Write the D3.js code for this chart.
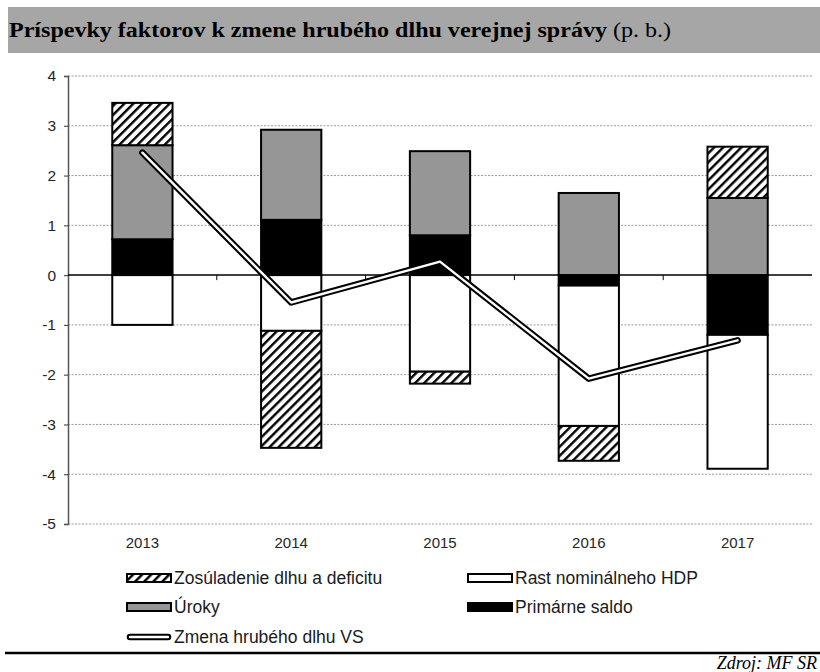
<!DOCTYPE html>
<html>
<head>
<meta charset="utf-8">
<script src="https://cdn.jsdelivr.net/npm/d3@7"></script>
<style>
  html, body { margin: 0; padding: 0; background: #fff; overflow: hidden; }
  svg { display: block; }
</style>
</head>
<body>
<script>
// Roky a príspevky jednotlivých faktorov (p. b.)
const years = ["2013", "2014", "2015", "2016", "2017"];
const primarneSaldo = [0.72, 1.11, 0.80, -0.21, -1.20];
const uroky = [1.89, 1.81, 1.69, 1.65, 1.55];
const rastHdp = [-1.00, -1.12, -1.94, -2.82, -2.69];
const zosuladenie = [0.85, -2.35, -0.24, -0.70, 1.03];
const zmenaDlhu = [2.46, -0.55, 0.27, -2.08, -1.31];
const yTicks = [4, 3, 2, 1, 0, -1, -2, -3, -4, -5];

const seriesKeys = ["saldo", "uroky", "hdp", "zos"];
const seriesNames = {
  zos: "Zosúladenie dlhu a deficitu",
  hdp: "Rast nominálneho HDP",
  uroky: "Úroky",
  saldo: "Primárne saldo"
};

const W = 820, H = 672;
const svg = d3.select("body").append("svg").attr("width", W).attr("height", H);

const defs = svg.append("defs");
const hatch = defs.append("pattern")
  .attr("id", "hatch")
  .attr("patternUnits", "userSpaceOnUse")
  .attr("width", 6.4).attr("height", 6.4)
  .attr("patternTransform", "rotate(45)");
hatch.append("rect").attr("width", 6.4).attr("height", 6.4).attr("fill", "#fff");
hatch.append("line").attr("x1", 1.2).attr("x2", 1.2).attr("y1", 0).attr("y2", 6.4)
  .attr("stroke", "#000").attr("stroke-width", 2.4);

const fills = { saldo: "#000", uroky: "#969696", hdp: "#fff", zos: "url(#hatch)" };

// Title bar
svg.append("rect").attr("x", 8).attr("y", 7).attr("width", W - 8).attr("height", 46).attr("fill", "#a6a6a6");
const title = svg.append("text")
  .attr("transform", "translate(9,37) scale(1.145,1)")
  .attr("font-family", "'Liberation Serif', 'Times New Roman', serif")
  .attr("font-size", 21).attr("fill", "#000");
title.append("tspan").attr("font-weight", "bold").text("Príspevky faktorov k zmene hrubého dlhu verejnej správy");
title.append("tspan").text(" (p. b.)");

// Scales
const x = d3.scaleBand().domain(years).range([68, 812]).paddingInner(0).paddingOuter(0);
const y = d3.scaleLinear().domain([-5, 4]).range([524, 76]);
const barW = x.bandwidth() * 0.405;

// Gridlines
svg.append("g").selectAll("line").data(yTicks.filter(d => d !== 0)).join("line")
  .attr("x1", 68).attr("x2", 812)
  .attr("y1", d => y(d)).attr("y2", d => y(d))
  .attr("stroke", "#9a9a9a").attr("stroke-width", 1).attr("stroke-dasharray", "2,1.5");

// Y axis
const yAxis = svg.append("g").attr("transform", "translate(68,0)")
  .call(d3.axisLeft(y).tickValues(yTicks).tickSize(4).tickPadding(8).tickFormat(d => String(d)));
yAxis.select(".domain").attr("stroke", "#555").attr("stroke-width", 1.5);
yAxis.selectAll(".tick line").attr("stroke", "#555").attr("stroke-width", 1.2);
yAxis.selectAll(".tick text")
  .attr("font-family", "'Liberation Sans', Arial, sans-serif")
  .attr("font-size", 15.5).attr("fill", "#262626");

// Stacked bars
const rows = years.map((yr, i) => ({
  year: yr, saldo: primarneSaldo[i], uroky: uroky[i], hdp: rastHdp[i], zos: zosuladenie[i]
}));
const stack = d3.stack().keys(seriesKeys).offset(d3.stackOffsetDiverging)(rows);

svg.append("g").selectAll("g").data(stack).join("g")
  .attr("fill", d => fills[d.key])
  .selectAll("rect").data(d => d).join("rect")
  .attr("x", d => x(d.data.year) + (x.bandwidth() - barW) / 2)
  .attr("width", barW)
  .attr("y", d => y(Math.max(d[0], d[1])))
  .attr("height", d => Math.abs(y(d[0]) - y(d[1])))
  .attr("stroke", "#000").attr("stroke-width", 2);

// Zero line with category separators
svg.append("line").attr("x1", 68).attr("x2", 812).attr("y1", y(0)).attr("y2", y(0))
  .attr("stroke", "#000").attr("stroke-width", 1.5);
svg.append("g").selectAll("line").data(years.slice(1)).join("line")
  .attr("x1", d => x(d)).attr("x2", d => x(d))
  .attr("y1", y(0)).attr("y2", y(0) + 5)
  .attr("stroke", "#000").attr("stroke-width", 1);

// Category labels
svg.append("g").selectAll("text").data(years).join("text")
  .attr("x", d => x(d) + x.bandwidth() / 2).attr("y", 548)
  .attr("text-anchor", "middle")
  .attr("font-family", "'Liberation Sans', Arial, sans-serif")
  .attr("font-size", 15).attr("fill", "#262626")
  .text(d => d);

// Debt change line (double stroke)
const lineGen = d3.line()
  .x((d, i) => x(years[i]) + x.bandwidth() / 2)
  .y(d => y(d));
svg.append("path").datum(zmenaDlhu).attr("d", lineGen)
  .attr("fill", "none").attr("stroke", "#000").attr("stroke-width", 6.5)
  .attr("stroke-linecap", "round").attr("stroke-linejoin", "round");
svg.append("path").datum(zmenaDlhu).attr("d", lineGen)
  .attr("fill", "none").attr("stroke", "#fff").attr("stroke-width", 2.4)
  .attr("stroke-linecap", "round").attr("stroke-linejoin", "round");

// Legend
const legendItems = [
  { key: "zos", col: 0, row: 0 },
  { key: "hdp", col: 1, row: 0 },
  { key: "uroky", col: 0, row: 1 },
  { key: "saldo", col: 1, row: 1 },
  { key: "line", col: 0, row: 2 }
];
const colX = [127, 468];
const rowY = [578, 607, 637];
const lg = svg.append("g");
legendItems.forEach(it => {
  const lx = colX[it.col], ly = rowY[it.row];
  if (it.key === "line") {
    lg.append("line").attr("x1", lx + 3).attr("x2", lx + 41).attr("y1", ly).attr("y2", ly)
      .attr("stroke", "#000").attr("stroke-width", 6.5).attr("stroke-linecap", "round");
    lg.append("line").attr("x1", lx + 3).attr("x2", lx + 41).attr("y1", ly).attr("y2", ly)
      .attr("stroke", "#fff").attr("stroke-width", 2.4).attr("stroke-linecap", "round");
  } else {
    lg.append("rect").attr("x", lx).attr("y", ly - 4).attr("width", 44).attr("height", 8)
      .attr("fill", fills[it.key]).attr("stroke", "#000").attr("stroke-width", 2);
  }
  lg.append("text").attr("x", lx + 47).attr("y", ly + 6)
    .attr("font-family", "'Liberation Sans', Arial, sans-serif")
    .attr("font-size", 17.5).attr("fill", "#1a1a1a")
    .text(it.key === "line" ? "Zmena hrubého dlhu VS" : seriesNames[it.key]);
});

// Footer rule and source
svg.append("line").attr("x1", 5).attr("x2", W).attr("y1", 653).attr("y2", 653)
  .attr("stroke", "#000").attr("stroke-width", 2.5);
svg.append("text").attr("x", 817).attr("y", 669)
  .attr("text-anchor", "end")
  .attr("font-family", "'Liberation Serif', 'Times New Roman', serif")
  .attr("font-style", "italic").attr("font-size", 18).attr("fill", "#000")
  .text("Zdroj: MF SR");
</script>
</body>
</html>
